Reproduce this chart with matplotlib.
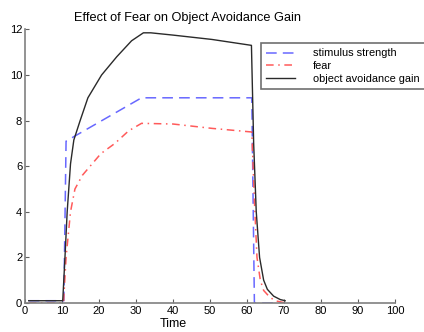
import numpy as np
import matplotlib.pyplot as plt
plt.rcParams['font.family'] = ['Liberation Sans', 'DejaVu Sans']

# readings from the picture
stim_t = [1, 10.5, 11.1, 31.5, 61.3, 62, 70]
stim_y = [0.1, 0.1, 7.1, 9.0, 9.0, 0.0, 0.0]

fear_t = [1, 10.4, 11.1, 12.3, 13.5, 15.5, 17.6, 20.5, 24.3, 28, 31.5, 40, 50.5, 61.3, 62, 62.7, 63.6, 64.5, 65.9, 67.5, 70.5]
fear_y = [0.0, 0.0, 2.0, 4.0, 5.0, 5.6, 6.0, 6.55, 7.0, 7.55, 7.88, 7.85, 7.66, 7.5, 4.5, 2.0, 1.0, 0.55, 0.3, 0.1, 0.0]

gain_t = [1, 10.2, 10.8, 11.4, 12.3, 13.2, 14.9, 17, 20.7, 24.8, 28.8, 32, 34, 40, 50.5, 61.2, 61.8, 62.5, 63.4, 64.5, 65.5, 67.2, 69, 70.3]
gain_y = [0.1, 0.1, 2.0, 4.0, 6.1, 7.15, 8.0, 9.0, 10.0, 10.8, 11.5, 11.85, 11.85, 11.75, 11.56, 11.3, 7.0, 4.0, 2.0, 1.0, 0.6, 0.3, 0.15, 0.1]

fig = plt.figure(figsize=(4.24, 3.32), dpi=100)
ax = fig.add_axes([25/424, 29/332, 370/424, 273.6/332])

ax.plot(stim_t, stim_y, color='#6868ff', ls=(0, (7, 4)), lw=1.1, label='stimulus strength')
ax.plot(fear_t, fear_y, color='#ff5a5a', ls=(0, (5, 3, 1, 3)), lw=1.1, label='fear')
ax.plot(gain_t, gain_y, color='#2a2a2a', lw=1.0, label='object avoidance gain')

ax.set_xlim(0, 100)
ax.set_ylim(0, 12)
ax.set_xticks(np.arange(0, 101, 10))
ax.set_yticks(np.arange(0, 13, 2))
for s in ['top', 'right']:
    ax.spines[s].set_visible(False)
for s in ['left', 'bottom']:
    ax.spines[s].set_color('#808080')
    ax.spines[s].set_linewidth(1.2)
ax.tick_params(direction='in', length=3, color='#606060', labelsize=8, pad=2)

ax.set_title('Effect of Fear on Object Avoidance Gain', fontsize=9.2, x=0.44, pad=6)
ax.set_xlabel('Time', fontsize=9, labelpad=0)
ax.xaxis.set_label_coords(0.4, -0.055)

leg = fig.legend(loc='upper left', bbox_to_anchor=(261/424, 1 - 43/332), fontsize=7.9,
                 fancybox=False, framealpha=1, edgecolor='#707070',
                 handlelength=2.6, handletextpad=1.6, borderpad=0.5, labelspacing=0.25,
                 borderaxespad=0)
leg.get_frame().set_linewidth(1.2)

plt.savefig('out.png', dpi=100)
